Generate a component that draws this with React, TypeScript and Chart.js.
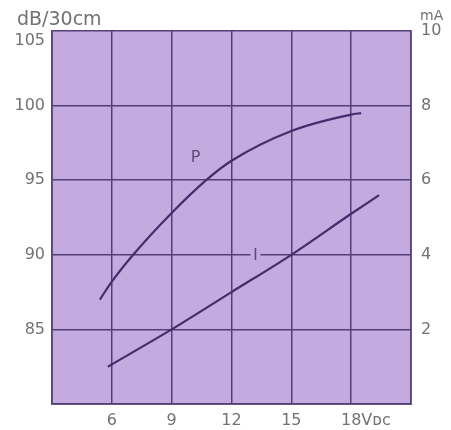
import React, { useEffect, useRef } from "react";
import { Chart, registerables } from "chart.js";

Chart.register(...registerables);

// Supply voltage (V DC) and sound pressure level P (dB/30cm)
const pVolts = [5.4, 6, 7.07, 9, 10.73, 12, 15, 18, 18.5];
const pLevel = [87.0, 88.2, 90, 92.8, 95, 96.3, 98.3, 99.4, 99.5];

// Supply voltage (V DC) and current I (mA)
const iVolts = [5.8, 9, 12, 15, 18, 19.4];
const iCurrent = [1.0, 2.0, 3.0, 4.0, 5.1, 5.6];

const xTicks = [6, 9, 12, 15, 18];
const dbTicks = [85, 90, 95, 100, 105];
const maTicks = [2, 4, 6, 8, 10];

const leftTitle = "dB/30cm";
const rightTitle = "mA";
const xUnitSuffix = "Vᴅᴄ";
const pLabel = { text: "P", x: 10.2, y: 96.5 };
const iLabel = { text: "I", x: 13.2, y: 90 };

const PLOT_BG = "#c3aadf";
const GRID = "#553f78";
const CURVE = "#472c6c";
const TEXT = "#727272";
const FONT = "DejaVu Sans";

export default function App() {
  const ref = useRef<HTMLCanvasElement | null>(null);

  useEffect(() => {
    if (!ref.current) return;

    const decor = {
      id: "decor",
      beforeDraw(chart: any) {
        const { ctx, chartArea: a } = chart;
        ctx.save();
        ctx.fillStyle = PLOT_BG;
        ctx.fillRect(a.left, a.top, a.right - a.left, a.bottom - a.top);
        ctx.restore();
      },
      afterDraw(chart: any) {
        const { ctx, chartArea: a } = chart;
        const xs = chart.scales.x;
        const yl = chart.scales.yDb;
        ctx.save();
        // axis titles
        ctx.fillStyle = TEXT;
        ctx.textBaseline = "alphabetic";
        ctx.textAlign = "left";
        ctx.font = `19px "${FONT}"`;
        ctx.fillText(leftTitle, a.left - 35, a.top - 6);
        ctx.font = `14px "${FONT}"`;
        ctx.fillText(rightTitle, a.right + 9, a.top - 11);
        // unit suffix after the 18 tick label
        ctx.font = `16px "${FONT}"`;
        const w18 = ctx.measureText("18").width;
        ctx.textBaseline = "middle";
        const midY = xs.top + 7 + (16 * 1.2) / 2;
        ctx.fillText(xUnitSuffix, xs.getPixelForValue(18) + w18 / 2, midY);
        // curve labels
        ctx.textAlign = "center";
        ctx.fillStyle = "#5e4e78";
        ctx.font = `16px "${FONT}"`;
        ctx.fillText(pLabel.text, xs.getPixelForValue(pLabel.x), yl.getPixelForValue(pLabel.y));
        const ix = xs.getPixelForValue(iLabel.x);
        const iy = yl.getPixelForValue(iLabel.y);
        ctx.fillStyle = PLOT_BG;
        ctx.fillRect(ix - 5, iy - 2.5, 10, 5);
        ctx.fillStyle = "#5a4680";
        ctx.font = `15px "${FONT}"`;
        ctx.fillText(iLabel.text, ix, iy + 1);
        ctx.restore();
      },
    };

    const chart = new Chart(ref.current, {
      type: "scatter",
      data: {
        datasets: [
          {
            label: "P",
            data: pVolts.map((v, k) => ({ x: v, y: pLevel[k] })),
            yAxisID: "yDb",
            showLine: true,
            borderColor: CURVE,
            borderWidth: 2.2,
            pointRadius: 0,
            cubicInterpolationMode: "monotone",
          },
          {
            label: "I",
            data: iVolts.map((v, k) => ({ x: v, y: iCurrent[k] })),
            yAxisID: "yMa",
            showLine: true,
            borderColor: CURVE,
            borderWidth: 2.2,
            pointRadius: 0,
            cubicInterpolationMode: "monotone",
          },
        ],
      },
      options: {
        responsive: false,
        animation: false,
        layout: { padding: { top: 31, left: 0, right: 0, bottom: 0 } },
        plugins: { legend: { display: false }, tooltip: { enabled: false } },
        scales: {
          x: {
            type: "linear",
            min: 3,
            max: 21,
            afterBuildTicks: (s: any) => {
              s.ticks = [3, ...xTicks, 21].map((v) => ({ value: v }));
            },
            ticks: {
              callback: (v: any) => (xTicks.includes(v) ? String(v) : ""),
              font: { family: FONT, size: 16 },
              color: TEXT,
              padding: 7,
              maxRotation: 0,
              autoSkip: false,
            },
            grid: { color: GRID, lineWidth: 1.5, drawTicks: false },
            border: { display: true, color: GRID, width: 1.7 },
            afterFit: (s: any) => {
              s.height = 26;
            },
          },
          yDb: {
            type: "linear",
            position: "left",
            min: 80,
            max: 105,
            afterBuildTicks: (s: any) => {
              s.ticks = [80, ...dbTicks].map((v) => ({ value: v }));
            },
            ticks: {
              callback: (v: any) =>
                v === 105 ? ["", "105"] : dbTicks.includes(v) ? String(v) : "",
              font: { family: FONT, size: 16 },
              color: TEXT,
              padding: 7,
            },
            grid: { color: GRID, lineWidth: 1.5, drawTicks: false },
            border: { display: true, color: GRID, width: 1.7 },
            afterFit: (s: any) => {
              s.width = 52;
            },
          },
          yMa: {
            type: "linear",
            position: "right",
            min: 0,
            max: 10,
            afterBuildTicks: (s: any) => {
              s.ticks = [0, ...maTicks].map((v) => ({ value: v }));
            },
            ticks: {
              callback: (v: any) => (maTicks.includes(v) ? String(v) : ""),
              font: { family: FONT, size: 16 },
              color: TEXT,
              padding: 10,
            },
            grid: { display: false, drawTicks: false },
            border: { display: true, color: GRID, width: 1.7 },
            afterFit: (s: any) => {
              s.width = 40;
            },
          },
        },
      },
      plugins: [decor],
    } as any);

    return () => chart.destroy();
  }, []);

  return (
    <div style={{ position: "fixed", left: 0, top: 0, width: 451, height: 430, background: "#fff" }}>
      <canvas ref={ref} width={451} height={430} style={{ width: 451, height: 430 }} />
    </div>
  );
}
